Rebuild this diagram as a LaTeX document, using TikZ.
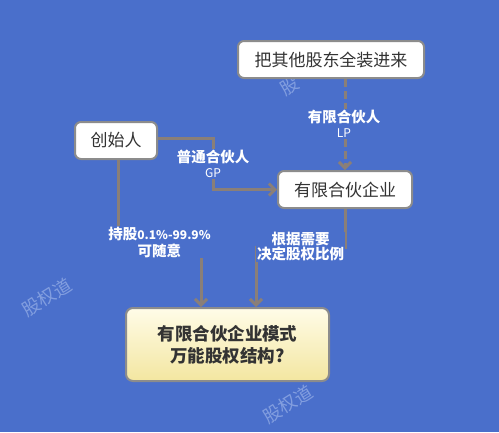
\documentclass[tikz,border=0pt]{standalone}
\usepackage{fontspec}
\usepackage{xcolor}
\usepackage{tikz}
\usetikzlibrary{
    positioning,
    arrows.meta,
    calc
}
\newfontfamily\cjk{Noto Sans CJK SC}
\newcommand{\latinsmall}{\mdseries\fontsize{12}{13}\selectfont}
\definecolor{bgblue}{HTML}{4A6FCB}
\definecolor{linkgray}{HTML}{8A7F78}
\definecolor{boxline}{HTML}{8C8C8C}
\definecolor{textdark}{HTML}{333333}
\definecolor{wmblue}{HTML}{9AB2E8}
\definecolor{goaltop}{HTML}{FFFCE8}
\definecolor{goalbottom}{HTML}{F3E6A0}
\tikzset{
    whitebox/.style={
        rectangle, draw=boxline, line width=2pt, fill=white,
        rounded corners=6pt, minimum height=37pt,
        font=\cjk\fontsize{17}{20}\selectfont, text=textdark
    },
    goalbox/.style={
        rectangle, draw=boxline, line width=2pt,
        top color=goaltop, bottom color=goalbottom,
        rounded corners=7pt, minimum width=203pt, minimum height=73pt,
        align=center, font=\cjk\bfseries\fontsize{17.5}{22}\selectfont, text=textdark
    },
    link/.style={
        line width=3pt, draw=linkgray, -{Straight Barb[length=6pt,width=12pt]}
    },
    wmark/.style={
        font=\cjk\fontsize{18}{20}\selectfont, text=wmblue, opacity=0.7, rotate=32
    }
}

\begin{document}
\begin{tikzpicture}[
    x=1pt, y=-1pt,
    lbl/.style={fill=bgblue, inner sep=1pt, text=white, align=center,
                font=\cjk\bfseries\fontsize{14.5}{15}\selectfont}
  ]

    \fill[bgblue] (0,0) rectangle (499,432);
    \useasboundingbox (0,0) rectangle (499,432);

    % watermarks
    \node[wmark] (wm1) at (47,297) {股权道};
    \node[wmark] (wm2) at (288,404) {股权道};
    \node[wmark] (wm3) at (290,86) {股};

    \node[whitebox, minimum width=186pt] (others) at (331,59.5) {把其他股东全装进来};
    \node[whitebox, minimum width=82pt] (founder) at (116,140.5) {创始人};
    \node[whitebox, minimum width=134pt] (lpfirm) at (345,189.5) {有限合伙企业};
    \node[goalbox] (goal) at (227.5,344.5) {有限合伙企业模式\\万能股权结构?};

    \coordinate (gpbend) at (213,138);

    \draw[link, dash pattern=on 8pt off 4pt] (lpfirm.north |- others.south) -- (lpfirm.north);
    \node[lbl] (lplabel) at (344,124) {有限合伙人\\{\latinsmall LP}};

    \draw[link] (founder.east |- gpbend) -- (gpbend) |- node[pos=0.25, lbl] (gplabel) {普通合伙人\\{\latinsmall GP}} (lpfirm.west);

    \draw[link] ([xshift=2pt]founder.south) -- ++(0,82) -| node[pos=0.25, lbl, font=\cjk\bfseries\fontsize{14.5}{17}\selectfont] (holdlabel) {持股{\fontsize{12}{17}\selectfont 0.1\%-99.9\%}\\可随意} ([xshift=-26.5pt]goal.north);

    \draw[link] (lpfirm.south) -- ++(0,38) -| node[pos=0.25, lbl] (ratiolabel) {根据需要\\决定股权比例} ([xshift=28.5pt]goal.north);

\end{tikzpicture}
\end{document}
